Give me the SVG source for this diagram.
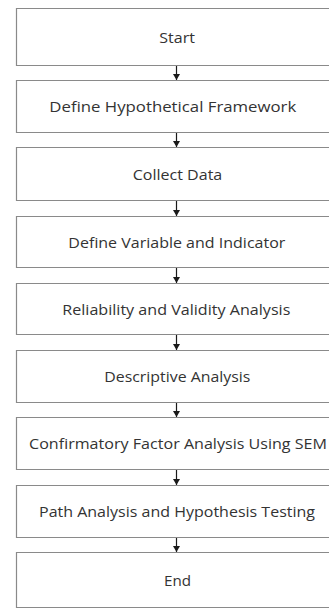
<svg xmlns="http://www.w3.org/2000/svg" width="329" height="609" viewBox="0 0 329 609">
  <defs>
    <marker id="arrow" viewBox="0 0 6 7" refX="6" refY="3.5" markerWidth="6" markerHeight="7" markerUnits="userSpaceOnUse" orient="auto">
      <path d="M0,0 L6,3.5 L0,7 Z" fill="#1a1a1a"/>
    </marker>
  </defs>
  <style>
    .box { fill: #ffffff; stroke: #8a8a8a; stroke-width: 1.2; }
    .lbl { font-family: "Open Sans", "Liberation Sans", sans-serif; font-size: 15px; fill: #333333; }
    .conn { stroke: #1a1a1a; stroke-width: 1.2; fill: none; }
  </style>
  <rect width="329" height="609" fill="#ffffff"/>
  <g id="connectors">
    <line class="conn" x1="176.5" y1="65" x2="176.5" y2="80" marker-end="url(#arrow)"/>
    <line class="conn" x1="176.5" y1="132" x2="176.5" y2="147" marker-end="url(#arrow)"/>
    <line class="conn" x1="176.5" y1="200" x2="176.5" y2="216" marker-end="url(#arrow)"/>
    <line class="conn" x1="176.5" y1="267" x2="176.5" y2="283" marker-end="url(#arrow)"/>
    <line class="conn" x1="176.5" y1="334" x2="176.5" y2="350" marker-end="url(#arrow)"/>
    <line class="conn" x1="176.5" y1="402" x2="176.5" y2="417" marker-end="url(#arrow)"/>
    <line class="conn" x1="176.5" y1="469" x2="176.5" y2="485" marker-end="url(#arrow)"/>
    <line class="conn" x1="176.5" y1="537" x2="176.5" y2="552" marker-end="url(#arrow)"/>
  </g>
  <g id="start">
    <path class="box" d="M330,8.5 H16.5 V65.5 H330"/>
    <text class="lbl" x="159.3" y="42.5" textLength="35.7" lengthAdjust="spacingAndGlyphs">Start</text>
  </g>
  <g id="define-framework">
    <path class="box" d="M330,80.5 H16.5 V132.5 H330"/>
    <text class="lbl" x="49.3" y="112" textLength="247" lengthAdjust="spacingAndGlyphs">Define Hypothetical Framework</text>
  </g>
  <g id="collect-data">
    <path class="box" d="M330,147.5 H16.5 V200.5 H330"/>
    <text class="lbl" x="132.7" y="179.5" textLength="89.6" lengthAdjust="spacingAndGlyphs">Collect Data</text>
  </g>
  <g id="define-variable">
    <path class="box" d="M330,216.5 H16.5 V267.5 H330"/>
    <text class="lbl" x="68.3" y="248" textLength="217" lengthAdjust="spacingAndGlyphs">Define Variable and Indicator</text>
  </g>
  <g id="reliability">
    <path class="box" d="M330,283.5 H16.5 V334.5 H330"/>
    <text class="lbl" x="62.3" y="314.5" textLength="228" lengthAdjust="spacingAndGlyphs">Reliability and Validity Analysis</text>
  </g>
  <g id="descriptive">
    <path class="box" d="M330,350.5 H16.5 V402.5 H330"/>
    <text class="lbl" x="104.3" y="382.3" textLength="146" lengthAdjust="spacingAndGlyphs">Descriptive Analysis</text>
  </g>
  <g id="cfa">
    <path class="box" d="M330,417.5 H16.5 V469.5 H330"/>
    <text class="lbl" x="29" y="449" textLength="298" lengthAdjust="spacingAndGlyphs">Confirmatory Factor Analysis Using SEM</text>
  </g>
  <g id="path-analysis">
    <path class="box" d="M330,485.5 H16.5 V537.5 H330"/>
    <text class="lbl" x="39" y="517" textLength="276" lengthAdjust="spacingAndGlyphs">Path Analysis and Hypothesis Testing</text>
  </g>
  <g id="end">
    <path class="box" d="M330,552.5 H16.5 V607.5 H330"/>
    <text class="lbl" x="164" y="586" textLength="27" lengthAdjust="spacingAndGlyphs">End</text>
  </g>
</svg>
